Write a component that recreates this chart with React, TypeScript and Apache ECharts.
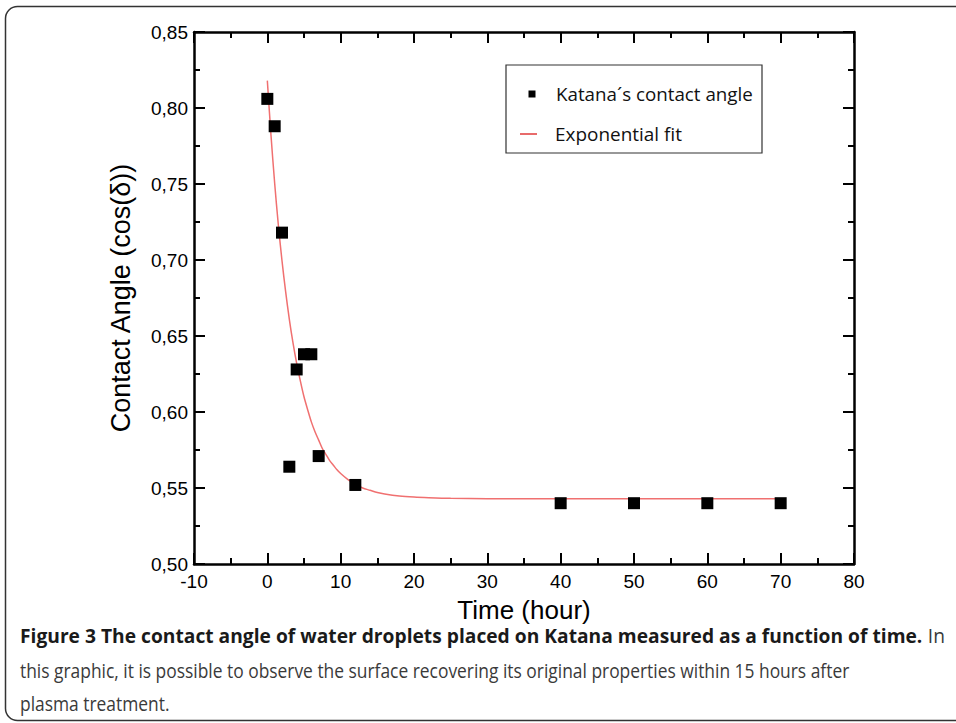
import React, { useEffect, useRef } from 'react';
import * as echarts from 'echarts';

// Measured data: time (hours) vs cos(contact angle)
const timeHours = [0, 1, 2, 3, 4, 5, 6, 7, 12, 40, 50, 60, 70];
const contactAngle = [0.806, 0.788, 0.718, 0.564, 0.628, 0.638, 0.638, 0.571, 0.552, 0.540, 0.540, 0.540, 0.540];

// Exponential fit curve
const fitTimes = [0, 0.5, 1, 1.5, 2, 2.5, 3, 3.5, 4, 4.5, 5, 5.5, 6, 6.5, 7, 7.5, 8, 8.5, 9, 9.5, 10, 11, 12, 13, 14, 15, 16, 18, 20, 22, 25, 30, 40, 50, 60, 70];
const fitValues = [0.818, 0.782, 0.7505, 0.723, 0.6995, 0.679, 0.661, 0.6455, 0.632, 0.6205, 0.610, 0.6015, 0.5935, 0.587, 0.5815, 0.576, 0.572, 0.568, 0.565, 0.562, 0.5595, 0.5555, 0.5525, 0.550, 0.5485, 0.547, 0.546, 0.5447, 0.544, 0.5436, 0.5432, 0.543, 0.543, 0.543, 0.543, 0.543];

// Axis ranges / ticks
const xRange = [-10, 80];
const xInterval = 10;
const yRange = [0.5, 0.85];
const yInterval = 0.05;

const seriesNames = ['Katana´s contact angle', 'Exponential fit'];
const xTitle = 'Time (hour)';
const yTitle = 'Contact Angle (cos(δ))';
const captionBold = 'Figure 3 The contact angle of water droplets placed on Katana measured as a function of time.';
const captionLine1Rest = ' In';
const captionLine2 = 'this graphic, it is possible to observe the surface recovering its original properties within 15 hours after';
const captionLine3 = 'plasma treatment.';

const AXIS_FONT = 'Liberation Sans, Arial, sans-serif';

function measure(text: string, font: string): number {
  const c = document.createElement('canvas').getContext('2d');
  if (!c) return text.length * 10;
  c.font = font;
  return c.measureText(text).width;
}

export default function App() {
  const ref = useRef<HTMLDivElement>(null);
  useEffect(() => {
    document.body.style.margin = '0';
    if (!ref.current) return;
    const chart = echarts.init(ref.current, null, { renderer: 'svg' });

    const capSize = 20;
    const boldFont = `bold ${capSize}px Open Sans`;
    const normFont = `${capSize}px Open Sans`;
    const boldW = measure(captionBold, boldFont);
    const restW = measure(captionLine1Rest, normFont);
    const s1 = 925 / (boldW + restW);
    const s2 = 830 / measure(captionLine2, normFont);

    const legSize = 19;
    const legFont = `${legSize}px Open Sans`;
    const ls1 = 197 / measure(seriesNames[0], legFont);
    const ls2 = 127 / measure(seriesNames[1], legFont);

    const fmtY = (v: number) => v.toFixed(2).replace('.', ',');

    const baseAxis = {
      type: 'value' as const,
      axisLine: { show: true, onZero: false, lineStyle: { color: '#000', width: 2.5 } },
      axisTick: { show: true, inside: true, length: 11, lineStyle: { color: '#000', width: 2 } },
      minorTick: { show: true, splitNumber: 2, length: 6, lineStyle: { color: '#000', width: 2 } },
      splitLine: { show: false },
      minorSplitLine: { show: false },
    };

    chart.setOption({
      animation: false,
      backgroundColor: '#fff',
      grid: { left: 194, top: 32, right: 102, bottom: 159, containLabel: false },
      xAxis: [
        {
          ...baseAxis,
          position: 'bottom',
          min: xRange[0],
          max: xRange[1],
          interval: xInterval,
          axisLabel: { margin: 8, fontSize: 19, color: '#000', fontFamily: AXIS_FONT },
          name: xTitle,
          nameLocation: 'middle',
          nameGap: 33,
          nameTextStyle: { fontSize: 26, color: '#000', fontFamily: AXIS_FONT },
        },
        {
          ...baseAxis,
          position: 'top',
          min: xRange[0],
          max: xRange[1],
          interval: xInterval,
          axisLabel: { show: false },
        },
      ],
      yAxis: [
        {
          ...baseAxis,
          position: 'left',
          min: yRange[0],
          max: yRange[1],
          interval: yInterval,
          axisLabel: { margin: 6, fontSize: 19, color: '#000', fontFamily: AXIS_FONT, formatter: fmtY },
          name: yTitle,
          nameLocation: 'middle',
          nameGap: 60,
          nameTextStyle: { fontSize: 27, color: '#000', fontFamily: AXIS_FONT },
        },
        {
          ...baseAxis,
          position: 'right',
          min: yRange[0],
          max: yRange[1],
          interval: yInterval,
          axisLabel: { show: false },
        },
      ],
      series: [
        {
          name: seriesNames[1],
          type: 'line',
          xAxisIndex: 0,
          yAxisIndex: 0,
          data: fitTimes.map((t, i) => [t, fitValues[i]]),
          smooth: 0.3,
          showSymbol: false,
          symbol: 'none',
          lineStyle: { color: '#f07070', width: 1.5 },
          z: 2,
        },
        {
          name: seriesNames[0],
          type: 'scatter',
          xAxisIndex: 0,
          yAxisIndex: 0,
          data: timeHours.map((t, i) => [t, contactAngle[i]]),
          symbol: 'rect',
          symbolSize: 12,
          itemStyle: { color: '#000', opacity: 1 },
          z: 3,
        },
      ],
      graphic: [
        {
          type: 'rect',
          shape: { x: 5.5, y: 6.5, width: 1000, height: 714, r: 12 },
          style: { fill: 'none', stroke: '#333', lineWidth: 1.5 },
          silent: true,
          z: 0,
        },
        {
          type: 'rect',
          shape: { x: 506, y: 65, width: 256, height: 88 },
          style: { fill: '#fff', stroke: '#333', lineWidth: 1.2 },
          z: 10,
        },
        {
          type: 'rect',
          shape: { x: 528.5, y: 90.5, width: 7, height: 7 },
          style: { fill: '#000' },
          z: 11,
        },
        {
          type: 'line',
          shape: { x1: 520, y1: 134, x2: 537, y2: 134 },
          style: { stroke: '#e03a3a', lineWidth: 1.5 },
          z: 11,
        },
        {
          type: 'text',
          x: 556,
          y: 94,
          scaleX: ls1,
          style: { text: seriesNames[0], font: legFont, fill: '#111', verticalAlign: 'middle', align: 'left' },
          z: 11,
        },
        {
          type: 'text',
          x: 555,
          y: 134,
          scaleX: ls2,
          style: { text: seriesNames[1], font: legFont, fill: '#111', verticalAlign: 'middle', align: 'left' },
          z: 11,
        },
        {
          type: 'text',
          x: 20,
          y: 635,
          scaleX: s1,
          style: { text: captionBold, font: boldFont, fill: '#1a1a1a', verticalAlign: 'middle', align: 'left' },
          z: 11,
        },
        {
          type: 'text',
          x: 20 + boldW * s1,
          y: 635,
          scaleX: s1,
          style: { text: captionLine1Rest, font: normFont, fill: '#3a3a3a', verticalAlign: 'middle', align: 'left' },
          z: 11,
        },
        {
          type: 'text',
          x: 20,
          y: 670,
          scaleX: s2,
          style: { text: captionLine2, font: normFont, fill: '#3a3a3a', verticalAlign: 'middle', align: 'left' },
          z: 11,
        },
        {
          type: 'text',
          x: 20,
          y: 703,
          scaleX: s2,
          style: { text: captionLine3, font: normFont, fill: '#3a3a3a', verticalAlign: 'middle', align: 'left' },
          z: 11,
        },
      ],
    });
    return () => chart.dispose();
  }, []);
  return <div ref={ref} style={{ width: 956, height: 723 }} />;
}
